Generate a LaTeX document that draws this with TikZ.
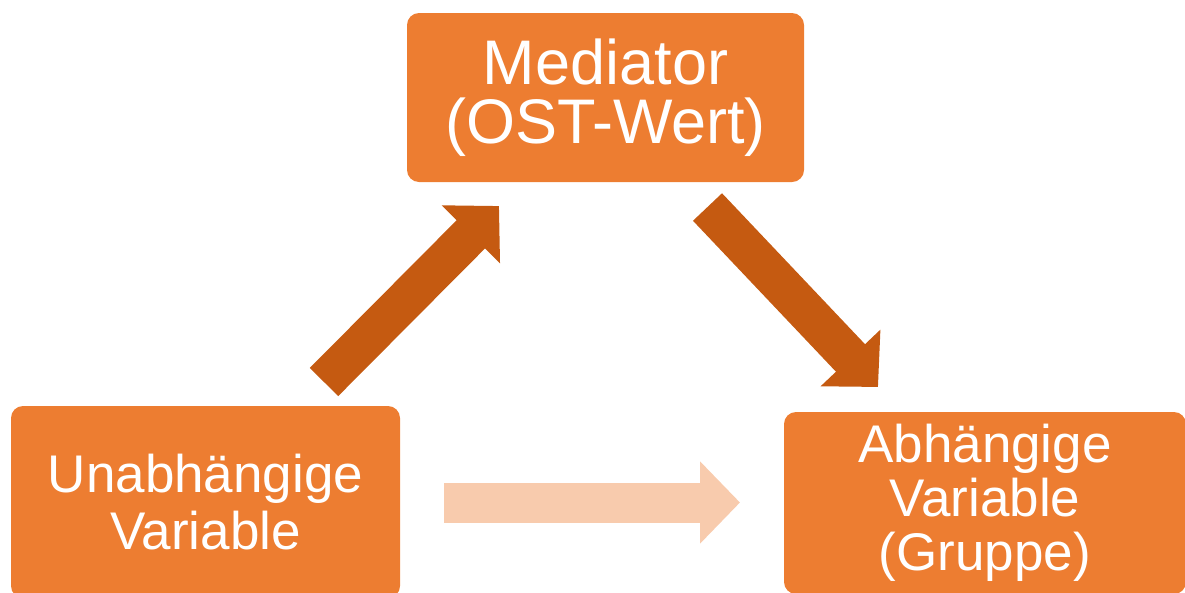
\documentclass[tikz,border=0pt]{standalone}
\usepackage{fontspec}
\setmainfont{Liberation Sans}
\usetikzlibrary{arrows.meta}
\definecolor{boxorange}{HTML}{ED7D31}
\definecolor{darkarrow}{HTML}{C55A11}
\definecolor{lightarrow}{HTML}{F8CBAD}
\tikzset{
  box/.style={fill=boxorange, draw=none, rounded corners=12pt, text=white, align=center, inner sep=0pt},
  bigarrow/.style={line width=40pt, draw=#1, -{Triangle[length=40pt, width=80pt, fill=#1]}},
}
\begin{document}
\begin{tikzpicture}[x=1pt, y=-1pt]
\useasboundingbox (0,0) rectangle (1185,592);
\node[box, minimum width=397pt, minimum height=169pt, font=\fontsize{63}{59}\selectfont] (med) at (605.5,97.5) {Mediator\\(OST-Wert)};
\node[box, minimum width=389pt, minimum height=192pt, font=\fontsize{53}{57}\selectfont] (uv) at (205.5,502) {Unabhängige\\Variable};
\node[box, minimum width=402pt, minimum height=182pt, font=\fontsize{53}{54}\selectfont] (av) at (985,503) {Abhängige\\Variable\\(Gruppe)};
\coordinate (a1s) at (324,382);
\coordinate (a1e) at (499,206);
\coordinate (a2s) at (707.5,207);
\coordinate (a2e) at (878,387);
\coordinate (a3s) at (444,502.5);
\coordinate (a3e) at (740,502.5);
\draw[bigarrow=darkarrow] (a1s) -- (a1e);
\draw[bigarrow=darkarrow] (a2s) -- (a2e);
\draw[bigarrow=lightarrow] (a3s) -- (a3e);
\end{tikzpicture}
\end{document}
